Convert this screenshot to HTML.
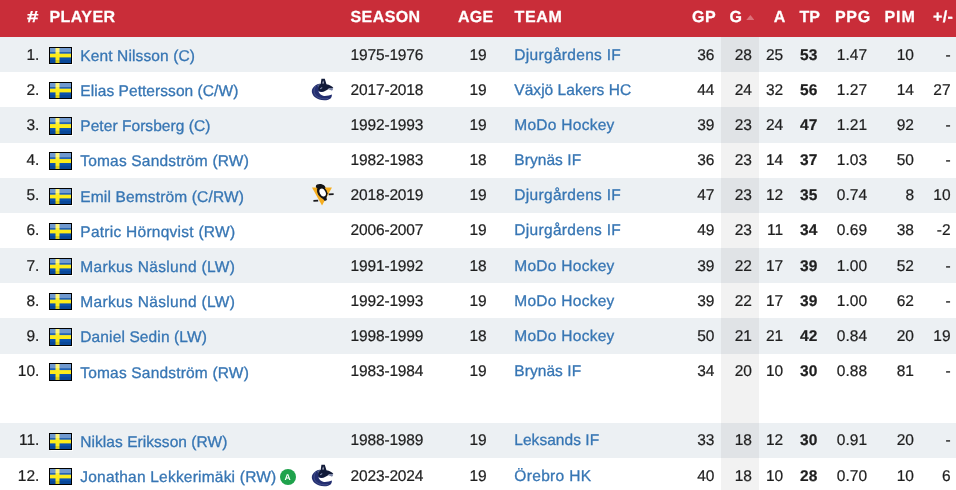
<!DOCTYPE html>
<html lang="en"><head><meta charset="utf-8"><title>Player stats</title>
<style>
html,body{margin:0;padding:0;background:#fff;}
body{width:956px;height:490px;overflow:hidden;position:relative;font-family:"Liberation Sans",Arial,sans-serif;font-size:15.500px;text-rendering:geometricPrecision;color:#1f1f1f;-webkit-text-stroke:0.220px;}
#t{position:absolute;left:0;top:0;width:956px;height:530px;overflow:hidden;}
.hd{position:absolute;left:0;top:0;width:956px;height:37px;background:#c92d39;color:#fff;font-weight:bold;font-size:16px;}
.hd span{-webkit-text-stroke:0.250px;position:absolute;top:1px;line-height:33px;white-space:nowrap;}
.r{position:absolute;left:0;width:956px;height:35px;}
.bg{position:absolute;left:0;width:956px;background:#ecf0f3;}
.r span,.r a{position:absolute;top:0.700px;line-height:35px;white-space:nowrap;}
a{color:#3776b4;text-decoration:none;}
.gc{position:absolute;left:721px;top:37px;width:38px;height:460px;background:rgba(0,0,0,.052);}
.n{right:916.600px;}
.r .fl{left:49px;top:10px;width:21px;height:15px;border:1px solid #000;line-height:0;box-shadow:0 0 1px 0.500px rgba(255,255,255,.9);}
.fl svg{display:block;}
.p,.tm{font-size:15.500px;-webkit-text-stroke:0.300px;}
.p{left:80.300px;}
.lg{position:absolute;left:311.400px;top:6.400px;}
.s{left:350.600px;letter-spacing:-0.170px;}
.ag{left:458px;width:40px;text-align:center;}
.tm{left:514.300px;}
.gp{right:241.500px;}
.g{right:204px;}
.a{right:172.800px;}
.tp{right:138.700px;font-weight:bold;}
.pg{right:89px;}
.pm{right:42px;}
.pl{right:5.400px;}
.r .badge{width:16px;height:16px;border-radius:50%;background:#1fa24c;color:#fff;font-size:8.500px;font-weight:bold;line-height:16px;text-align:center;top:9.900px;left:279.600px;-webkit-text-stroke:0;}
</style></head><body>
<div id="t">
<div class="hd"><span id="h_n" style="left:27px;letter-spacing:0.00px;transform:scaleX(1.28);transform-origin:0 50%">#</span><span id="h_p" style="left:49.500px;letter-spacing:0.44px">PLAYER</span><span id="h_s" style="left:350.500px;letter-spacing:0.42px">SEASON</span><span id="h_a" style="left:458px;letter-spacing:0.28px">AGE</span><span id="h_t" style="left:514.500px;letter-spacing:0.67px">TEAM</span><span id="h_gp" style="left:692px;letter-spacing:0.64px">GP</span><span id="h_g" style="left:729.500px;letter-spacing:0.00px">G</span><span id="h_as" style="left:773.800px;letter-spacing:0.00px">A</span><span id="h_tp" style="left:799.500px;letter-spacing:-0.13px">TP</span><span id="h_pg" style="left:835px;letter-spacing:0.67px">PPG</span><span id="h_pm" style="left:884.500px;letter-spacing:0.88px">PIM</span><span id="h_pl" style="left:933px;letter-spacing:0.33px">+/-</span><svg style="position:absolute;left:745.700px;top:14.500px" width="8.800" height="5.400" viewBox="0 0 10 6"><path d="M5 0L10 6H0z" fill="#db727a"/></svg></div>
<div class="bg" style="top:37.00px;height:35.18px"></div>
<div class="bg" style="top:107.36px;height:35.18px"></div>
<div class="bg" style="top:177.72px;height:35.18px"></div>
<div class="bg" style="top:248.08px;height:35.18px"></div>
<div class="bg" style="top:318.44px;height:35.18px"></div>
<div class="bg" style="top:423.20px;height:34.80px"></div>
<div class="gc"></div>
<div class="r" style="top:37px"><span class="n">1.</span><span class="fl" style="top:10px;height:15px"><svg width="21" height="15" preserveAspectRatio="none" viewBox="0 0 21 15"><rect width="21" height="15" fill="#0b52ad"/><rect x="5.5" width="4" height="15" fill="#fdec1c"/><rect y="5.700" width="21" height="3.700" fill="#fdec1c"/><rect width="21" height="4" fill="#fff" fill-opacity=".42"/><rect y="4" width="21" height="2" fill="#fff" fill-opacity=".1"/><rect y="12" width="21" height="3" fill="#000" fill-opacity=".12"/></svg></span><a class="p" id="p1" style="letter-spacing:0.12px;top:1.7px">Kent Nilsson (C)</a><span class="s">1975-1976</span><span class="ag">19</span><a class="tm" id="t1" style="letter-spacing:0.31px">Djurgårdens IF</a><span class="gp">36</span><span class="g">28</span><span class="a">25</span><span class="tp">53</span><span class="pg">1.47</span><span class="pm">10</span><span class="pl">-</span></div>
<div class="r" style="top:72px"><span class="n">2.</span><span class="fl" style="top:10px;height:15px"><svg width="21" height="15" preserveAspectRatio="none" viewBox="0 0 21 15"><rect width="21" height="15" fill="#0b52ad"/><rect x="5.5" width="4" height="15" fill="#fdec1c"/><rect y="5.700" width="21" height="3.700" fill="#fdec1c"/><rect width="21" height="4" fill="#fff" fill-opacity=".42"/><rect y="4" width="21" height="2" fill="#fff" fill-opacity=".1"/><rect y="12" width="21" height="3" fill="#000" fill-opacity=".12"/></svg></span><a class="p" id="p2" style="letter-spacing:0.06px;top:1.7px">Elias Pettersson (C/W)</a><svg class="lg" width="23" height="22.400" viewBox="120 70 375 365"><path d="M275,165 C230,150 175,190 145,240 C120,285 135,340 185,385 C240,430 330,445 400,425 C440,412 465,385 460,340 C430,352 380,365 330,362 C285,355 250,320 240,285 C270,300 300,300 330,285 L290,200 Z" fill="#232e70"/><path d="M195,205 C160,255 160,320 205,365 C250,405 330,420 395,405" fill="none" stroke="#4a5790" stroke-width="13" stroke-linecap="round"/><path d="M215,185 C235,170 255,168 275,170 L250,235 Z" fill="#4e5a86"/><path d="M290,82 L345,82 L372,170 C420,180 470,200 485,235 C470,232 440,228 415,236 C390,264 340,296 290,293 C255,286 235,262 240,232 C248,200 265,178 278,168 Z" fill="#111a38"/><path d="M415,238 C440,230 465,234 483,240 C478,262 465,277 452,273 C438,263 420,257 400,257 Z" fill="#7a84a6"/><path d="M318,105 L330,160 L305,160 Z" fill="#c9cede"/><path d="M265,240 L300,215 L305,235 L275,255 Z" fill="#8d97b8"/></svg><span class="s">2017-2018</span><span class="ag">19</span><a class="tm" id="t2" style="letter-spacing:0.04px">Växjö Lakers HC</a><span class="gp">44</span><span class="g">24</span><span class="a">32</span><span class="tp">56</span><span class="pg">1.27</span><span class="pm">14</span><span class="pl">27</span></div>
<div class="r" style="top:107px"><span class="n">3.</span><span class="fl" style="top:10px;height:16px"><svg width="21" height="16" preserveAspectRatio="none" viewBox="0 0 21 15"><rect width="21" height="15" fill="#0b52ad"/><rect x="5.5" width="4" height="15" fill="#fdec1c"/><rect y="5.700" width="21" height="3.700" fill="#fdec1c"/><rect width="21" height="4" fill="#fff" fill-opacity=".42"/><rect y="4" width="21" height="2" fill="#fff" fill-opacity=".1"/><rect y="12" width="21" height="3" fill="#000" fill-opacity=".12"/></svg></span><a class="p" id="p3" style="letter-spacing:0.05px;top:1.7px">Peter Forsberg (C)</a><span class="s">1992-1993</span><span class="ag">19</span><a class="tm" id="t3" style="letter-spacing:0.27px">MoDo Hockey</a><span class="gp">39</span><span class="g">23</span><span class="a">24</span><span class="tp">47</span><span class="pg">1.21</span><span class="pm">92</span><span class="pl">-</span></div>
<div class="r" style="top:142px"><span class="n">4.</span><span class="fl" style="top:10px;height:16px"><svg width="21" height="16" preserveAspectRatio="none" viewBox="0 0 21 15"><rect width="21" height="15" fill="#0b52ad"/><rect x="5.5" width="4" height="15" fill="#fdec1c"/><rect y="5.700" width="21" height="3.700" fill="#fdec1c"/><rect width="21" height="4" fill="#fff" fill-opacity=".42"/><rect y="4" width="21" height="2" fill="#fff" fill-opacity=".1"/><rect y="12" width="21" height="3" fill="#000" fill-opacity=".12"/></svg></span><a class="p" id="p4" style="letter-spacing:0.18px;top:1.7px">Tomas Sandström (RW)</a><span class="s">1982-1983</span><span class="ag">18</span><a class="tm" id="t4" style="letter-spacing:0.06px">Brynäs IF</a><span class="gp">36</span><span class="g">23</span><span class="a">14</span><span class="tp">37</span><span class="pg">1.03</span><span class="pm">50</span><span class="pl">-</span></div>
<div class="r" style="top:177px"><span class="n">5.</span><span class="fl" style="top:11px;height:15px"><svg width="21" height="15" preserveAspectRatio="none" viewBox="0 0 21 15"><rect width="21" height="15" fill="#0b52ad"/><rect x="5.5" width="4" height="15" fill="#fdec1c"/><rect y="5.700" width="21" height="3.700" fill="#fdec1c"/><rect width="21" height="4" fill="#fff" fill-opacity=".42"/><rect y="4" width="21" height="2" fill="#fff" fill-opacity=".1"/><rect y="12" width="21" height="3" fill="#000" fill-opacity=".12"/></svg></span><a class="p" id="p5" style="letter-spacing:0.15px;top:2.7px">Emil Bemström (C/RW)</a><svg class="lg" style="top:6.700px;left:311.400px" width="23.300" height="22" viewBox="120 60 380 360"><path d="M135,118 L462,118 L300,412 Z" fill="#f5ad1f"/><path d="M365,120 L405,215 L440,120 Z" fill="#ecf0f3" fill-opacity=".0"/><ellipse cx="302" cy="195" rx="76" ry="112" transform="rotate(-27 302 195)" fill="#121216"/><path d="M198,100 C200,62 262,52 305,68 C335,80 352,98 358,120 L300,135 L212,128 Z" fill="#121216"/><path d="M300,285 L368,262 L380,320 L345,338 Z" fill="#121216"/><path d="M158,322 L236,317 L238,346 L160,350 Z" fill="#1a1a1e"/><path d="M408,214 L490,210 L490,238 L410,244 Z" fill="#1a1a1e"/><ellipse cx="310" cy="200" rx="47" ry="68" transform="rotate(-27 310 200)" fill="#fff"/><path d="M350,150 L395,225" stroke="#121216" stroke-width="10" fill="none"/></svg><span class="s">2018-2019</span><span class="ag">19</span><a class="tm" id="t5" style="letter-spacing:0.31px">Djurgårdens IF</a><span class="gp">47</span><span class="g">23</span><span class="a">12</span><span class="tp">35</span><span class="pg">0.74</span><span class="pm">8</span><span class="pl">10</span></div>
<div class="r" style="top:212px"><span class="n">6.</span><span class="fl" style="top:11px;height:15px"><svg width="21" height="15" preserveAspectRatio="none" viewBox="0 0 21 15"><rect width="21" height="15" fill="#0b52ad"/><rect x="5.5" width="4" height="15" fill="#fdec1c"/><rect y="5.700" width="21" height="3.700" fill="#fdec1c"/><rect width="21" height="4" fill="#fff" fill-opacity=".42"/><rect y="4" width="21" height="2" fill="#fff" fill-opacity=".1"/><rect y="12" width="21" height="3" fill="#000" fill-opacity=".12"/></svg></span><a class="p" id="p6" style="letter-spacing:0.26px;top:2.7px">Patric Hörnqvist (RW)</a><span class="s">2006-2007</span><span class="ag">19</span><a class="tm" id="t6" style="letter-spacing:0.31px">Djurgårdens IF</a><span class="gp">49</span><span class="g">23</span><span class="a">11</span><span class="tp">34</span><span class="pg">0.69</span><span class="pm">38</span><span class="pl">-2</span></div>
<div class="r" style="top:248px"><span class="n">7.</span><span class="fl" style="top:10px;height:15px"><svg width="21" height="15" preserveAspectRatio="none" viewBox="0 0 21 15"><rect width="21" height="15" fill="#0b52ad"/><rect x="5.5" width="4" height="15" fill="#fdec1c"/><rect y="5.700" width="21" height="3.700" fill="#fdec1c"/><rect width="21" height="4" fill="#fff" fill-opacity=".42"/><rect y="4" width="21" height="2" fill="#fff" fill-opacity=".1"/><rect y="12" width="21" height="3" fill="#000" fill-opacity=".12"/></svg></span><a class="p" id="p7" style="letter-spacing:0.33px;top:1.7px">Markus Näslund (LW)</a><span class="s">1991-1992</span><span class="ag">18</span><a class="tm" id="t7" style="letter-spacing:0.27px">MoDo Hockey</a><span class="gp">39</span><span class="g">22</span><span class="a">17</span><span class="tp">39</span><span class="pg">1.00</span><span class="pm">52</span><span class="pl">-</span></div>
<div class="r" style="top:283px"><span class="n">8.</span><span class="fl" style="top:10px;height:15px"><svg width="21" height="15" preserveAspectRatio="none" viewBox="0 0 21 15"><rect width="21" height="15" fill="#0b52ad"/><rect x="5.5" width="4" height="15" fill="#fdec1c"/><rect y="5.700" width="21" height="3.700" fill="#fdec1c"/><rect width="21" height="4" fill="#fff" fill-opacity=".42"/><rect y="4" width="21" height="2" fill="#fff" fill-opacity=".1"/><rect y="12" width="21" height="3" fill="#000" fill-opacity=".12"/></svg></span><a class="p" id="p8" style="letter-spacing:0.33px;top:1.7px">Markus Näslund (LW)</a><span class="s">1992-1993</span><span class="ag">19</span><a class="tm" id="t8" style="letter-spacing:0.27px">MoDo Hockey</a><span class="gp">39</span><span class="g">22</span><span class="a">17</span><span class="tp">39</span><span class="pg">1.00</span><span class="pm">62</span><span class="pl">-</span></div>
<div class="r" style="top:318px"><span class="n">9.</span><span class="fl" style="top:10px;height:16px"><svg width="21" height="16" preserveAspectRatio="none" viewBox="0 0 21 15"><rect width="21" height="15" fill="#0b52ad"/><rect x="5.5" width="4" height="15" fill="#fdec1c"/><rect y="5.700" width="21" height="3.700" fill="#fdec1c"/><rect width="21" height="4" fill="#fff" fill-opacity=".42"/><rect y="4" width="21" height="2" fill="#fff" fill-opacity=".1"/><rect y="12" width="21" height="3" fill="#000" fill-opacity=".12"/></svg></span><a class="p" id="p9" style="letter-spacing:0.12px;top:1.7px">Daniel Sedin (LW)</a><span class="s">1998-1999</span><span class="ag">18</span><a class="tm" id="t9" style="letter-spacing:0.27px">MoDo Hockey</a><span class="gp">50</span><span class="g">21</span><span class="a">21</span><span class="tp">42</span><span class="pg">0.84</span><span class="pm">20</span><span class="pl">19</span></div>
<div class="r" style="top:353px"><span class="n">10.</span><span class="fl" style="top:10px;height:16px"><svg width="21" height="16" preserveAspectRatio="none" viewBox="0 0 21 15"><rect width="21" height="15" fill="#0b52ad"/><rect x="5.5" width="4" height="15" fill="#fdec1c"/><rect y="5.700" width="21" height="3.700" fill="#fdec1c"/><rect width="21" height="4" fill="#fff" fill-opacity=".42"/><rect y="4" width="21" height="2" fill="#fff" fill-opacity=".1"/><rect y="12" width="21" height="3" fill="#000" fill-opacity=".12"/></svg></span><a class="p" id="p10" style="letter-spacing:0.18px;top:2.7px">Tomas Sandström (RW)</a><span class="s">1983-1984</span><span class="ag">19</span><a class="tm" id="t10" style="letter-spacing:0.06px">Brynäs IF</a><span class="gp">34</span><span class="g">20</span><span class="a">10</span><span class="tp">30</span><span class="pg">0.88</span><span class="pm">81</span><span class="pl">-</span></div>
<div class="r" style="top:422px"><span class="n">11.</span><span class="fl" style="top:11px;height:15px"><svg width="21" height="15" preserveAspectRatio="none" viewBox="0 0 21 15"><rect width="21" height="15" fill="#0b52ad"/><rect x="5.5" width="4" height="15" fill="#fdec1c"/><rect y="5.700" width="21" height="3.700" fill="#fdec1c"/><rect width="21" height="4" fill="#fff" fill-opacity=".42"/><rect y="4" width="21" height="2" fill="#fff" fill-opacity=".1"/><rect y="12" width="21" height="3" fill="#000" fill-opacity=".12"/></svg></span><a class="p" id="p11" style="letter-spacing:0.05px;top:2.7px">Niklas Eriksson (RW)</a><span class="s">1988-1989</span><span class="ag">19</span><a class="tm" id="t11" style="letter-spacing:0.04px">Leksands IF</a><span class="gp">33</span><span class="g">18</span><span class="a">12</span><span class="tp">30</span><span class="pg">0.91</span><span class="pm">20</span><span class="pl">-</span></div>
<div class="r" style="top:458px"><span class="n">12.</span><span class="fl" style="top:10px;height:15px"><svg width="21" height="15" preserveAspectRatio="none" viewBox="0 0 21 15"><rect width="21" height="15" fill="#0b52ad"/><rect x="5.5" width="4" height="15" fill="#fdec1c"/><rect y="5.700" width="21" height="3.700" fill="#fdec1c"/><rect width="21" height="4" fill="#fff" fill-opacity=".42"/><rect y="4" width="21" height="2" fill="#fff" fill-opacity=".1"/><rect y="12" width="21" height="3" fill="#000" fill-opacity=".12"/></svg></span><a class="p" id="p12" style="letter-spacing:0.21px;top:1.7px">Jonathan Lekkerimäki (RW)</a><span class="badge" style="top:10.8px">A</span><svg class="lg" width="23" height="22.400" viewBox="120 70 375 365"><path d="M275,165 C230,150 175,190 145,240 C120,285 135,340 185,385 C240,430 330,445 400,425 C440,412 465,385 460,340 C430,352 380,365 330,362 C285,355 250,320 240,285 C270,300 300,300 330,285 L290,200 Z" fill="#232e70"/><path d="M195,205 C160,255 160,320 205,365 C250,405 330,420 395,405" fill="none" stroke="#4a5790" stroke-width="13" stroke-linecap="round"/><path d="M215,185 C235,170 255,168 275,170 L250,235 Z" fill="#4e5a86"/><path d="M290,82 L345,82 L372,170 C420,180 470,200 485,235 C470,232 440,228 415,236 C390,264 340,296 290,293 C255,286 235,262 240,232 C248,200 265,178 278,168 Z" fill="#111a38"/><path d="M415,238 C440,230 465,234 483,240 C478,262 465,277 452,273 C438,263 420,257 400,257 Z" fill="#7a84a6"/><path d="M318,105 L330,160 L305,160 Z" fill="#c9cede"/><path d="M265,240 L300,215 L305,235 L275,255 Z" fill="#8d97b8"/></svg><span class="s">2023-2024</span><span class="ag">19</span><a class="tm" id="t12" style="letter-spacing:0.33px">Örebro HK</a><span class="gp">40</span><span class="g">18</span><span class="a">10</span><span class="tp">28</span><span class="pg">0.70</span><span class="pm">10</span><span class="pl">6</span></div>
</div></body></html>
